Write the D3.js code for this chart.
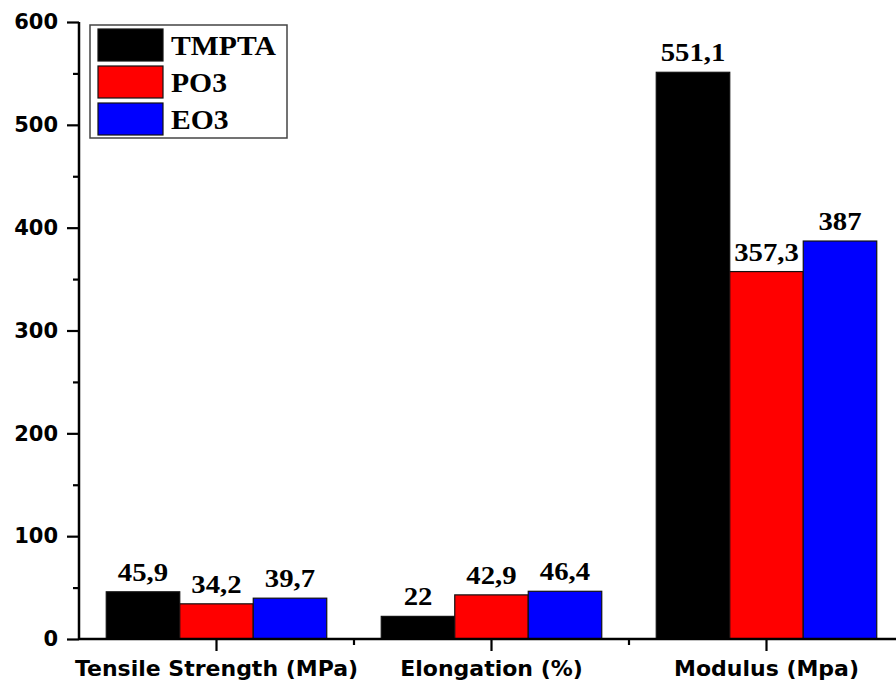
<!DOCTYPE html>
<html><head><meta charset="utf-8">
<script src="https://cdn.jsdelivr.net/npm/d3@7"></script>
<style>body{margin:0;background:#fff}svg{display:block}</style>
</head><body>
<script>
const categories = ["Tensile Strength (MPa)", "Elongation (%)", "Modulus (Mpa)"];
const seriesNames = ["TMPTA", "PO3", "EO3"];
const seriesColors = ["#000000", "#ff0000", "#0000ff"];
const TMPTA = [45.9, 22, 551.1];
const PO3 = [34.2, 42.9, 357.3];
const EO3 = [39.7, 46.4, 387];
const valueLabels = [["45,9","22","551,1"],["34,2","42,9","357,3"],["39,7","46,4","387"]];
const yTicks = [0, 100, 200, 300, 400, 500, 600];
const yMinorTicks = [50, 150, 250, 350, 450, 550];
const seriesValues = [TMPTA, PO3, EO3];

const W = 896, H = 686;
const svg = d3.select("body").append("svg").attr("width", W).attr("height", H);
const x0 = 79, yTop = 22, yBot = 639;
const groupW = 275, barW = 73.5;
const x = d3.scaleBand().domain(categories).range([x0, x0 + groupW*3]).paddingInner(0).paddingOuter(0);
const y = d3.scaleLinear().domain([0, 600]).range([yBot, yTop]);
const xs = d3.scaleBand().domain(seriesNames).range([0, barW*3]);

// bars
seriesNames.forEach((s, si) => {
  const g = svg.append("g");
  const bx = (i) => x(categories[i]) + (groupW - barW*3)/2 + xs(s);
  g.selectAll("rect").data(seriesValues[si]).enter().append("rect")
    .attr("x", (d, i) => bx(i))
    .attr("y", d => y(d))
    .attr("width", xs.bandwidth())
    .attr("height", d => yBot - y(d))
    .attr("fill", seriesColors[si])
    .attr("stroke", "#111").attr("stroke-width", 1.2);
  g.selectAll("text").data(seriesValues[si]).enter().append("text")
    .attr("transform", (d, i) => `translate(${bx(i) + xs.bandwidth()/2},${y(d) - 11}) scale(1.15,1)`)
    .attr("text-anchor", "middle")
    .attr("font-family", "Liberation Serif, Times New Roman, serif")
    .attr("font-weight", "bold").attr("font-size", 25)
    .text((d, i) => valueLabels[si][i]);
});

// y axis
const yAxis = d3.axisLeft(y).tickValues(yTicks).tickSize(12).tickPadding(9).tickFormat(d3.format("d"));
const ya = svg.append("g").attr("transform", `translate(${x0},0)`).call(yAxis);
ya.select(".domain").attr("stroke", "#000").attr("stroke-width", 2.5).attr("d", `M0,${yTop}V${yBot}`);
ya.selectAll(".tick line").attr("stroke-width", 2.2);
ya.selectAll(".tick text").attr("font-family", "DejaVu Sans, Verdana, sans-serif").attr("font-weight", "bold").attr("font-size", 21).attr("fill", "#000");
const yMinor = d3.axisLeft(y).tickValues(yMinorTicks).tickSize(6).tickFormat("");
const ym = svg.append("g").attr("transform", `translate(${x0},0)`).call(yMinor);
ym.select(".domain").remove();
ym.selectAll(".tick line").attr("stroke-width", 2.2);

// x axis
const xAxis = d3.axisBottom(x).tickSize(12).tickPadding(9);
const xa = svg.append("g").attr("transform", `translate(0,${yBot})`).call(xAxis);
xa.select(".domain").attr("stroke", "#000").attr("stroke-width", 2.5).attr("d", `M${x0},0H${W}`);
xa.selectAll(".tick line").attr("stroke-width", 2.2);
xa.selectAll(".tick text").attr("font-family", "DejaVu Sans, Verdana, sans-serif").attr("font-weight", "bold").attr("font-size", 22).attr("fill", "#000");
// minor x ticks at group boundaries
const bounds = categories.slice(1).map(c => x(c));
svg.append("g").selectAll("line").data(bounds).enter().append("line")
  .attr("x1", d => d).attr("x2", d => d).attr("y1", yBot).attr("y2", yBot + 6)
  .attr("stroke", "#000").attr("stroke-width", 2.2);

// legend
const lg = svg.append("g");
lg.append("rect").attr("x", 90).attr("y", 25).attr("width", 197).attr("height", 113)
  .attr("fill", "#fff").attr("stroke", "#444").attr("stroke-width", 1.5);
seriesNames.forEach((s, i) => {
  const yy = 29 + i * 37;
  lg.append("rect").attr("x", 98).attr("y", yy).attr("width", 65).attr("height", 32)
    .attr("fill", seriesColors[i]).attr("stroke", "#111").attr("stroke-width", 1.2);
  lg.append("text").attr("transform", `translate(171,${yy + 26}) scale(1.06,1)`)
    .attr("font-family", "Liberation Serif, Times New Roman, serif")
    .attr("font-weight", "bold").attr("font-size", 28).text(s);
});
</script>
</body></html>
